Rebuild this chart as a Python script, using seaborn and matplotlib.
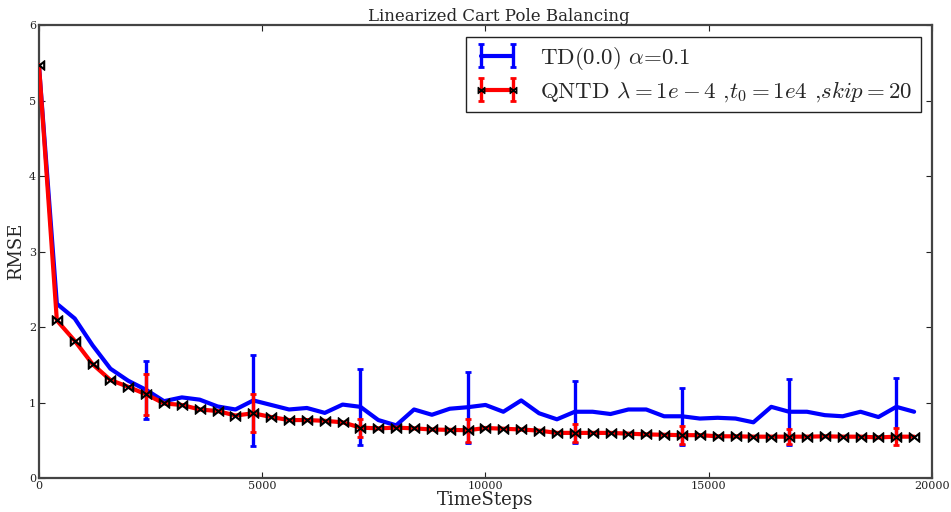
import matplotlib
matplotlib.use("Agg")
import matplotlib.pyplot as plt
from matplotlib.container import ErrorbarContainer
from matplotlib.font_manager import FontProperties
import pandas as pd
import seaborn as sns

# ---- data ----
steps = list(range(0, 20000, 400))
td_rmse = [5.46, 2.31, 2.115, 1.76, 1.45, 1.29, 1.17, 1.02, 1.07, 1.04,
           0.95, 0.91, 1.03, 0.97, 0.91, 0.93, 0.865, 0.975, 0.945, 0.77,
           0.70, 0.91, 0.84, 0.92, 0.94, 0.97, 0.88, 1.03, 0.86, 0.78,
           0.88, 0.88, 0.85, 0.91, 0.91, 0.82, 0.82, 0.79, 0.80, 0.79,
           0.74, 0.945, 0.88, 0.88, 0.835, 0.82, 0.88, 0.81, 0.945, 0.88]
qntd_rmse = [5.47, 2.09, 1.82, 1.51, 1.30, 1.21, 1.11, 0.99, 0.97, 0.91,
             0.89, 0.83, 0.86, 0.81, 0.77, 0.77, 0.76, 0.74, 0.67, 0.66,
             0.67, 0.66, 0.645, 0.64, 0.635, 0.665, 0.655, 0.645, 0.63, 0.60,
             0.60, 0.60, 0.60, 0.59, 0.58, 0.575, 0.57, 0.57, 0.555, 0.555,
             0.55, 0.55, 0.55, 0.55, 0.555, 0.55, 0.55, 0.54, 0.55, 0.55]
err_every = 6
td_err = [0.38, 0.60, 0.50, 0.47, 0.41, 0.38, 0.44, 0.38]
qntd_err = [0.27, 0.25, 0.12, 0.155, 0.12, 0.115, 0.10, 0.115]

label_td = r"TD(0.0) $\alpha$=0.1"
label_qntd = r"QNTD $\lambda=1e-4$ ,$t_0=1e4$ ,$skip=20$"
title = "Linearized Cart Pole Balancing"

# ---- style ----
sns.set_style("ticks")
plt.rcParams.update({
    "font.family": ["DejaVu Serif"],
    "mathtext.fontset": "cm",
    "xtick.direction": "in",
    "ytick.direction": "in",
    "xtick.top": True,
    "ytick.right": True,
    "axes.edgecolor": "#444444",
    "axes.linewidth": 1.6,
    "xtick.color": "#222222",
    "ytick.color": "#222222",
    "xtick.major.size": 4,
    "ytick.major.size": 4,
})

fig = plt.figure(figsize=(9.51, 5.12), dpi=100)
ax = fig.add_axes([0.041, 0.066, 0.939, 0.885])

df_td = pd.DataFrame({"TimeSteps": steps, "RMSE": td_rmse})
df_q = pd.DataFrame({"TimeSteps": steps, "RMSE": qntd_rmse})

sns.lineplot(data=df_td, x="TimeSteps", y="RMSE", ax=ax, color="blue",
             linewidth=3.0, legend=False, zorder=2)
line_td = ax.lines[-1]

sub_x = steps[err_every::err_every]
c_td = ax.errorbar(sub_x, td_rmse[err_every::err_every], yerr=td_err,
                   fmt="none", ecolor="blue", elinewidth=2.4, capsize=2.5,
                   capthick=2, zorder=2.5)

c_q = ax.errorbar(sub_x, qntd_rmse[err_every::err_every], yerr=qntd_err,
                  fmt="none", ecolor="red", elinewidth=2.4, capsize=2.5,
                  capthick=2, zorder=3)

sns.lineplot(data=df_q, x="TimeSteps", y="RMSE", ax=ax, color="red",
             linewidth=3.0, legend=False, zorder=4,
             marker=r"$\bowtie$", markersize=7.5,
             markerfacecolor="black", markeredgecolor="black",
             markeredgewidth=0.8)
line_q = ax.lines[-1]

ax.set_xlim(0, 20000)
ax.set_ylim(0, 6)
ax.set_xticks([0, 5000, 10000, 15000, 20000])
ax.set_yticks([0, 1, 2, 3, 4, 5, 6])
ax.tick_params(labelsize=8, pad=2)
ax.set_xlabel("TimeSteps", fontsize=13, labelpad=0)
ax.set_ylabel("RMSE", fontsize=13, labelpad=3)
ax.set_title(title, fontsize=12, pad=3, x=0.515)

h_td = ErrorbarContainer((line_td, c_td.lines[1], c_td.lines[2]),
                         has_xerr=False, has_yerr=True)
h_q = ErrorbarContainer((line_q, c_q.lines[1], c_q.lines[2]),
                        has_xerr=False, has_yerr=True)
leg = ax.legend([h_td, h_q], [label_td, label_qntd], loc="upper right",
                numpoints=2, fancybox=False, framealpha=1,
                edgecolor="#222222", borderaxespad=0.5, markerscale=0.65,
                prop=FontProperties(family="cmr10", size=16.5),
                handlelength=2.0, borderpad=0.35, labelspacing=0.35,
                handletextpad=0.9)
leg.get_frame().set_linewidth(1.0)

fig.savefig("out.png", dpi=100)
